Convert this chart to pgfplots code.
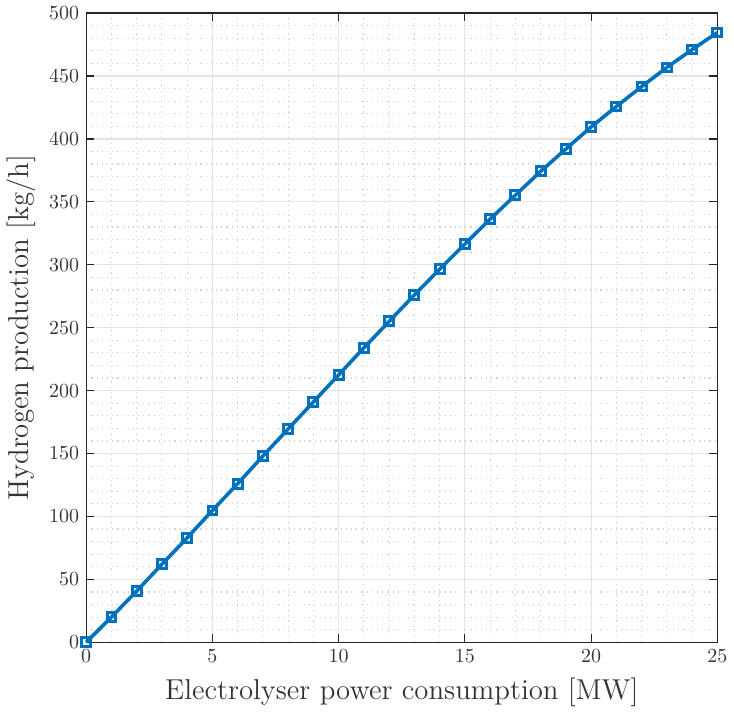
\documentclass[border=0pt]{standalone}
\usepackage{pgfplots}
\pgfplotsset{compat=1.18}
\definecolor{mblue}{HTML}{0072BD}
\begin{document}
\begin{tikzpicture}
\begin{axis}[width=316pt, height=315pt, scale only axis,
  xmin=0, xmax=25, ymin=0, ymax=500,
  xtick={0,5,...,25}, ytick={0,50,...,500},
  minor x tick num=4, minor y tick num=4,
  grid=both, major grid style={gray!22, line width=0.6pt},
  minor grid style={gray!35, dash pattern=on 0.6pt off 2pt, line width=0.6pt},
  axis line style={gray!30!black, line width=0.6pt},
  tick align=inside, major tick length=4pt, minor tick length=0pt,
  tick style={gray!30!black, line width=0.6pt},
  tick label style={font=\normalsize, color=black!80},
  label style={font=\Large, color=black!80},
  xlabel={Electrolyser power consumption [MW]},
  ylabel={Hydrogen production [kg/h]},
  xlabel style={yshift=-1pt},
  clip=false]
\addplot[color=mblue, line width=1.8pt, mark=square, mark size=2.2pt,
  mark options={solid, line width=1.5pt, fill=white}] coordinates {
(0,0) (1,20) (2,40.7) (3,62) (4,83) (5,104.8) (6,126) (7,148) (8,169.5) (9,191)
(10,212.5) (11,234) (12,255) (13,276) (14,296.5) (15,316.5) (16,336.3) (17,355.3)
(18,374.2) (19,392) (20,409.5) (21,425.8) (22,441.6) (23,456.8) (24,471) (25,484.5)};
\end{axis}
\end{tikzpicture}
\end{document}
